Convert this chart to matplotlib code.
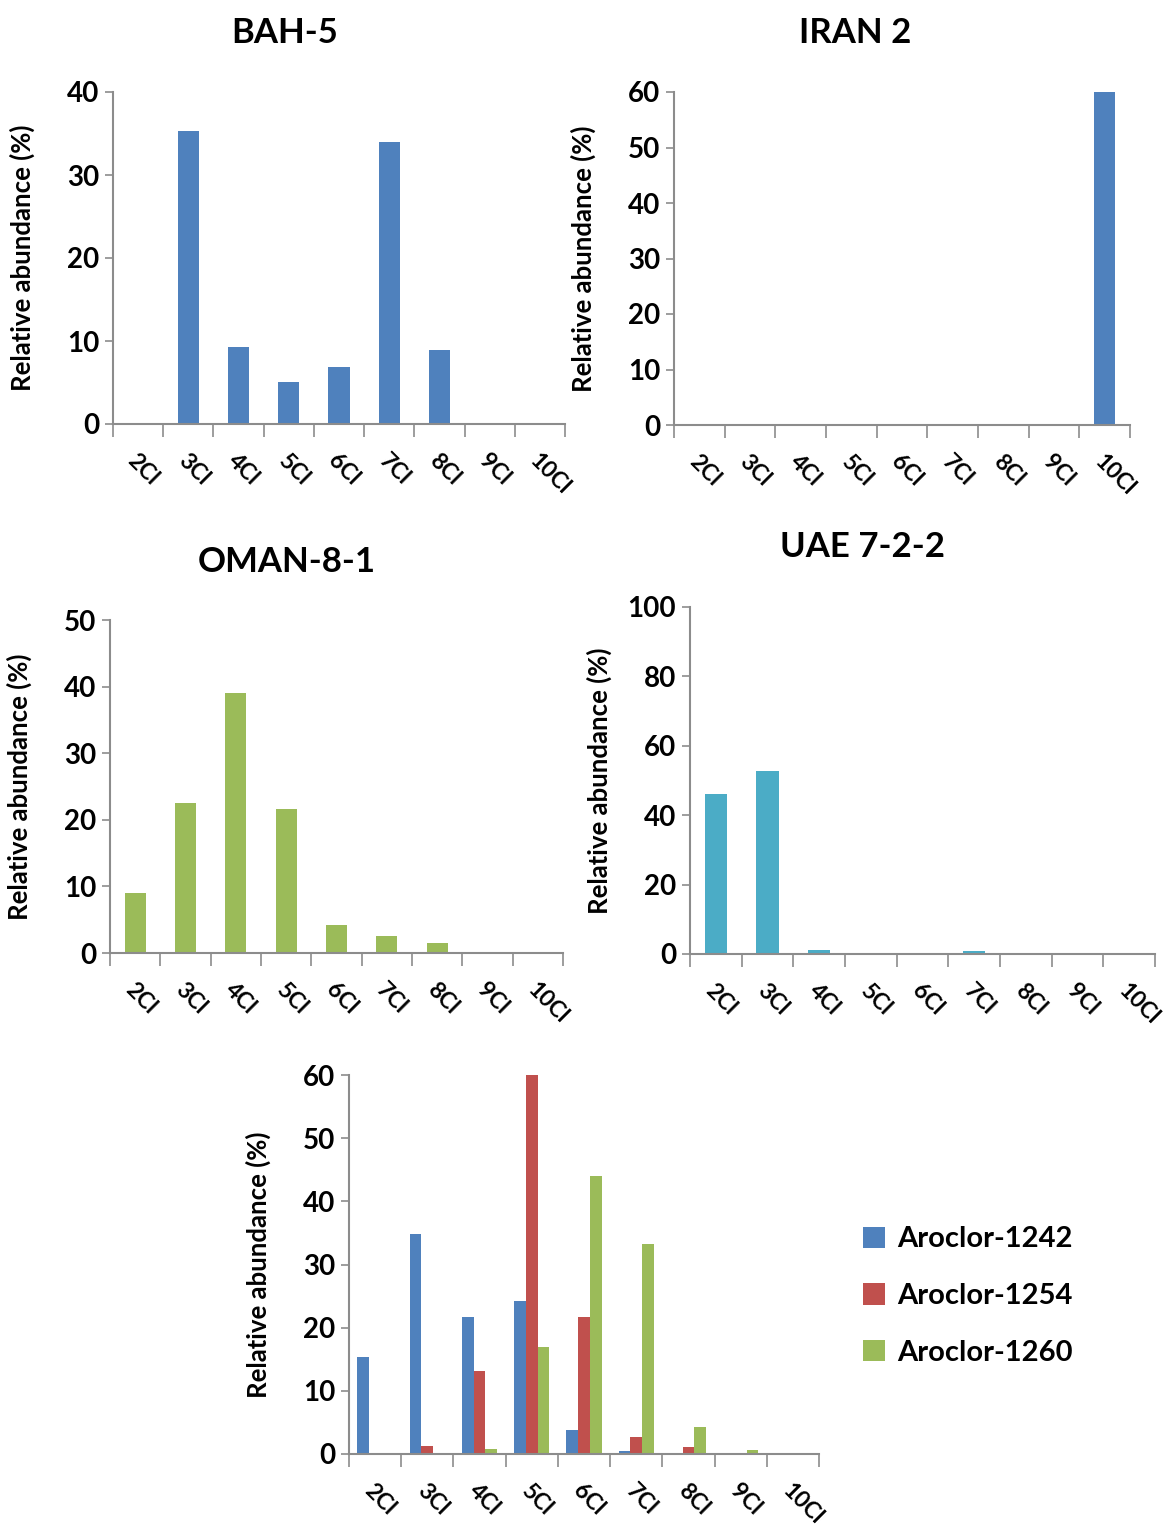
import matplotlib
matplotlib.use('Agg')
import matplotlib.pyplot as plt
import numpy as np

plt.rcParams['font.family'] = ['Lato', 'DejaVu Sans']
plt.rcParams['font.weight'] = 'bold'

## data ##

cats = ['2Cl', '3Cl', '4Cl', '5Cl', '6Cl', '7Cl', '8Cl', '9Cl', '10Cl']

bah5 = [0, 35.3, 9.3, 5.1, 6.9, 34.0, 8.9, 0, 0]
iran2 = [0, 0, 0, 0, 0, 0, 0, 0, 60]
oman = [9.0, 22.5, 39.0, 21.6, 4.2, 2.6, 1.5, 0, 0]
uae = [46.0, 52.6, 1.2, 0, 0, 0.8, 0, 0, 0]

ar1242 = [15.3, 34.8, 21.7, 24.2, 3.8, 0.4, 0, 0, 0]
ar1254 = [0, 1.3, 13.1, 60, 21.7, 2.7, 1.1, 0, 0]
ar1260 = [0, 0.1, 0.8, 16.9, 44.0, 33.2, 4.3, 0.6, 0.1]
ar_names = ['Aroclor-1242', 'Aroclor-1254', 'Aroclor-1260']

BLUE = '#4F81BD'
RED = '#C0504D'
GREEN = '#9BBB59'
TEAL = '#4BACC6'
AXC = '#8C8C8C'

W, H = 1173, 1526


def style_axes(ax, ymax, ystep):
    ax.set_xlim(-0.5, len(cats) - 0.5)
    ax.set_ylim(0, ymax)
    ax.set_yticks(np.arange(0, ymax + 1, ystep))
    ax.set_xticks(np.arange(-0.5, len(cats)))
    ax.set_xticklabels([])
    ax.tick_params(axis='x', direction='out', length=9, width=1.2, color=AXC)
    ax.tick_params(axis='y', direction='out', length=6, width=1.2,
                   color=AXC, labelsize=20, pad=4)
    for s in ['top', 'right']:
        ax.spines[s].set_visible(False)
    for s in ['left', 'bottom']:
        ax.spines[s].set_color(AXC)
        ax.spines[s].set_linewidth(1.5)
    for lab in ax.get_yticklabels():
        lab.set_fontweight('bold')
    # rotated category labels under the tick gaps
    for i, c in enumerate(cats):
        ax.annotate(c, xy=(i, 0), xycoords=('data', 'axes fraction'),
                    xytext=(-5, -24), textcoords='offset points',
                    rotation=-45, rotation_mode='anchor',
                    ha='left', va='center', fontsize=16.5, fontweight='bold')
    ax.set_ylabel('Relative abundance (%)', fontsize=18.5, fontweight='bold')
    wpx = ax.get_position().width * W
    ax.yaxis.set_label_coords(-78 / wpx, 0.5)


def add_axes_px(x0, y0, x1, y1):
    return fig.add_axes([x0 / W, 1 - y1 / H, (x1 - x0) / W, (y1 - y0) / H])


fig = plt.figure(figsize=(W / 100, H / 100), dpi=100)

x = np.arange(len(cats))

ax1 = add_axes_px(113, 92, 565, 424)
ax1.bar(x, bah5, width=0.42, color=BLUE)
style_axes(ax1, 40, 10)
fig.text(285 / W, 1 - 33 / H, 'BAH-5', fontsize=25, fontweight='bold',
         ha='center', va='center')

ax2 = add_axes_px(674, 92, 1130, 425)
ax2.bar(x, iran2, width=0.42, color=BLUE)
style_axes(ax2, 60, 10)
fig.text(855 / W, 1 - 33 / H, 'IRAN 2', fontsize=25, fontweight='bold',
         ha='center', va='center')

ax3 = add_axes_px(110, 620, 563, 953)
ax3.bar(x, oman, width=0.42, color=GREEN)
style_axes(ax3, 50, 10)
fig.text(287 / W, 1 - 562 / H, 'OMAN-8-1', fontsize=25, fontweight='bold',
         ha='center', va='center')

ax4 = add_axes_px(690, 607, 1155, 954)
ax4.bar(x, uae, width=0.43, color=TEAL)
style_axes(ax4, 100, 20)
fig.text(862 / W, 1 - 547 / H, 'UAE 7-2-2', fontsize=25, fontweight='bold',
         ha='center', va='center')

ax5 = add_axes_px(349, 1075, 819, 1454)
w = 0.225
ax5.bar(x - w, ar1242, width=w, color=BLUE, label=ar_names[0])
ax5.bar(x, ar1254, width=w, color=RED, label=ar_names[1])
ax5.bar(x + w, ar1260, width=w, color=GREEN, label=ar_names[2])
style_axes(ax5, 60, 10)
ax5.legend(loc='center left', bbox_to_anchor=(837 / W, 1 - 1296 / H),
           bbox_transform=fig.transFigure, frameon=False,
           prop={'size': 21, 'weight': 'bold'}, handlelength=0.75,
           handleheight=0.75, handletextpad=0.4, labelspacing=1.05)

fig.savefig('out.png', dpi=100)
